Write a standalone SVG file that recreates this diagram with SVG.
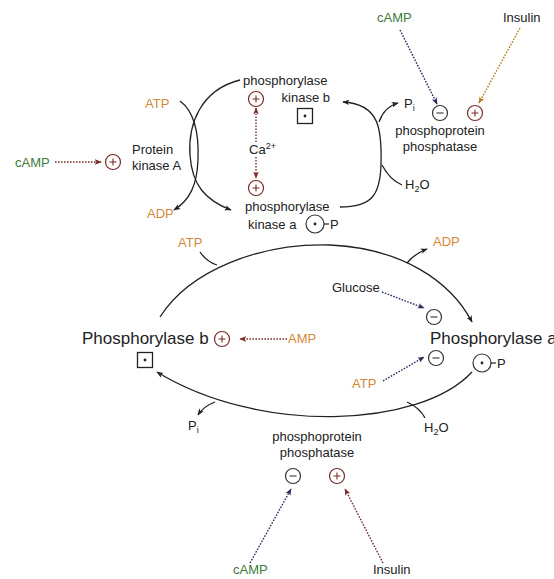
<svg xmlns="http://www.w3.org/2000/svg" width="554" height="579" viewBox="0 0 554 579">
<style>
text{font-family:"Liberation Sans",Arial,sans-serif;font-size:13px;fill:#222}
.big{font-size:17px}
.or{fill:#d4883a}
.gr{fill:#3d7a3d}
.ln{fill:none;stroke:#222;stroke-width:1.3}
.dm{fill:none;stroke:#7a2a2a;stroke-width:1.4;stroke-dasharray:1.6 1.4}
.dn{fill:none;stroke:#2a2a5e;stroke-width:1.4;stroke-dasharray:1.6 1.4}
.do{fill:none;stroke:#b07a24;stroke-width:1.4;stroke-dasharray:1.6 1.4}
.pc{fill:none;stroke:#7a2a2a;stroke-width:1.2}
.mc{fill:none;stroke:#333;stroke-width:1.2}
.sq{fill:none;stroke:#222;stroke-width:1.3}
</style>
<defs>
<marker id="ab" viewBox="0 0 10 10" refX="9" refY="5" markerWidth="7" markerHeight="7" markerUnits="userSpaceOnUse" orient="auto"><path d="M0,1 L10,5 L0,9 L2.5,5 Z" fill="#222"/></marker>
<marker id="am" viewBox="0 0 10 10" refX="9" refY="5" markerWidth="7" markerHeight="7" markerUnits="userSpaceOnUse" orient="auto"><path d="M0,1 L10,5 L0,9 L2.5,5 Z" fill="#7a2a2a"/></marker>
<marker id="an" viewBox="0 0 10 10" refX="9" refY="5" markerWidth="7" markerHeight="7" markerUnits="userSpaceOnUse" orient="auto"><path d="M0,1 L10,5 L0,9 L2.5,5 Z" fill="#2a2a5e"/></marker>
<marker id="ao" viewBox="0 0 10 10" refX="9" refY="5" markerWidth="7" markerHeight="7" markerUnits="userSpaceOnUse" orient="auto"><path d="M0,1 L10,5 L0,9 L2.5,5 Z" fill="#b07a24"/></marker>
<g id="plus"><circle r="7.5" class="pc"/><path d="M-3.5,0 H3.5 M0,-3.5 V3.5" stroke="#7a2a2a" stroke-width="1.1"/></g>
<g id="minus"><circle r="7.5" class="mc"/><path d="M-3.5,0 H3.5" stroke="#333" stroke-width="1.1"/></g>
<g id="sqdot"><rect x="-7.5" y="-7.5" width="15" height="15" class="sq"/><circle r="1.4" fill="#222"/></g>
<g id="cdot"><circle r="9" class="mc" stroke="#222"/><circle r="1.4" fill="#222"/><path d="M9,0 H14" stroke="#222" stroke-width="1.2"/></g>
</defs>

<g id="connectors">
<!-- top cycle -->
<path class="ln" d="M240,80 C200,90 188,125 190,155 C192,185 205,200 231,210" marker-end="url(#ab)"/>
<path class="ln" d="M180,101 C195,112 199,135 198,160 C197,185 190,200 174,210" marker-end="url(#ab)"/>
<path class="ln" d="M340,207 C372,207 380,195 381,165 C382,130 380,104 343,102" marker-end="url(#ab)"/>
<path class="ln" d="M379,122 Q384,107 398,103" marker-end="url(#ab)"/>
<path class="ln" d="M382,165 Q390,180 402,185"/>
<!-- big cycle -->
<path class="ln" d="M160,317 C190,270 260,243 330,245 C400,248 450,280 472,322" marker-end="url(#ab)"/>
<path class="ln" d="M200,252 Q207,262 217,265"/>
<path class="ln" d="M407,263 Q414,254 427,249" marker-end="url(#ab)"/>
<path class="ln" d="M472,372 C420,428 260,435 157,372" marker-end="url(#ab)"/>
<path class="ln" d="M215,402 Q204,406 198,415" marker-end="url(#ab)"/>
<path class="ln" d="M407,402 Q420,408 425,418"/>
<!-- dotted regulators -->
<path class="dm" d="M55,162 H101" marker-end="url(#am)"/>
<path class="dm" d="M256,142 V108" marker-end="url(#am)"/>
<path class="dm" d="M256,157 V178" marker-end="url(#am)"/>
<path class="dn" d="M400,30 L437,104" marker-end="url(#an)"/>
<path class="do" d="M520,28 L479,103" marker-end="url(#ao)"/>
<path class="dn" d="M382,292 L424,308" marker-end="url(#an)"/>
<path class="dn" d="M383,381 L424,357" marker-end="url(#an)"/>
<path class="dm" d="M287,339 H240" marker-end="url(#am)"/>
<path class="dn" d="M250,563 L291,489" marker-end="url(#an)"/>
<path class="dm" d="M383,563 L345,489" marker-end="url(#am)"/>
</g>

<g id="cAMP-top"><text class="gr" x="377" y="22">cAMP</text></g>
<g id="insulin-top"><text x="503" y="22">Insulin</text></g>

<g id="phosphorylase-kinase-b">
<text x="243" y="85">phosphorylase</text>
<text x="330" y="102" text-anchor="end">kinase b</text>
<use href="#plus" x="256" y="99"/>
<use href="#sqdot" x="305" y="116"/>
</g>

<g id="ca"><text x="249" y="154">Ca<tspan font-size="9" dy="-5">2+</tspan></text></g>

<g id="phosphorylase-kinase-a">
<use href="#plus" x="256" y="188"/>
<text x="245" y="211">phosphorylase</text>
<text x="248" y="229">kinase a</text>
<use href="#cdot" x="315" y="224"/>
<text x="330" y="229">P</text>
</g>

<g id="atp-top"><text class="or" x="145" y="108">ATP</text></g>
<g id="adp-top"><text class="or" x="147" y="218">ADP</text></g>

<g id="protein-kinase-a">
<use href="#plus" x="113" y="162"/>
<text x="132" y="154">Protein</text>
<text x="132" y="170">kinase A</text>
</g>
<g id="cAMP-left"><text class="gr" x="15" y="167">cAMP</text></g>

<g id="pi-top"><text x="404" y="108">P<tspan font-size="9" dy="3">i</tspan></text></g>
<g id="h2o-top"><text x="405" y="189">H<tspan font-size="9" dy="3">2</tspan><tspan dy="-3">O</tspan></text></g>

<g id="phosphatase-top">
<use href="#minus" x="440" y="113"/>
<use href="#plus" x="475" y="113"/>
<text x="440" y="135" text-anchor="middle">phosphoprotein</text>
<text x="440" y="151" text-anchor="middle">phosphatase</text>
</g>

<g id="atp-mid"><text class="or" x="178" y="247">ATP</text></g>
<g id="adp-mid"><text class="or" x="433" y="246">ADP</text></g>
<g id="glucose"><use href="#minus" x="434" y="317"/><text x="332" y="292">Glucose</text></g>

<g id="phosphorylase-b">
<text class="big" x="82" y="344">Phosphorylase b</text>
<use href="#plus" x="222" y="339"/>
<use href="#sqdot" x="145" y="360"/>
</g>
<g id="amp"><text class="or" x="288" y="343">AMP</text></g>

<g id="phosphorylase-a">
<text class="big" x="430" y="344">Phosphorylase a</text>
<use href="#minus" x="436" y="358"/>
<use href="#cdot" x="482" y="363"/>
<text x="497" y="368">P</text>
</g>
<g id="atp-low"><text class="or" x="352" y="388">ATP</text></g>

<g id="pi-low"><text x="188" y="430">P<tspan font-size="9" dy="3">i</tspan></text></g>
<g id="h2o-low"><text x="424" y="432">H<tspan font-size="9" dy="3">2</tspan><tspan dy="-3">O</tspan></text></g>

<g id="phosphatase-bottom">
<text x="317" y="441" text-anchor="middle">phosphoprotein</text>
<text x="317" y="457" text-anchor="middle">phosphatase</text>
<use href="#minus" x="293" y="476"/>
<use href="#plus" x="337" y="476"/>
</g>
<g id="cAMP-bottom"><text class="gr" x="233" y="574">cAMP</text></g>
<g id="insulin-bottom"><text x="373" y="574">Insulin</text></g>
</svg>
